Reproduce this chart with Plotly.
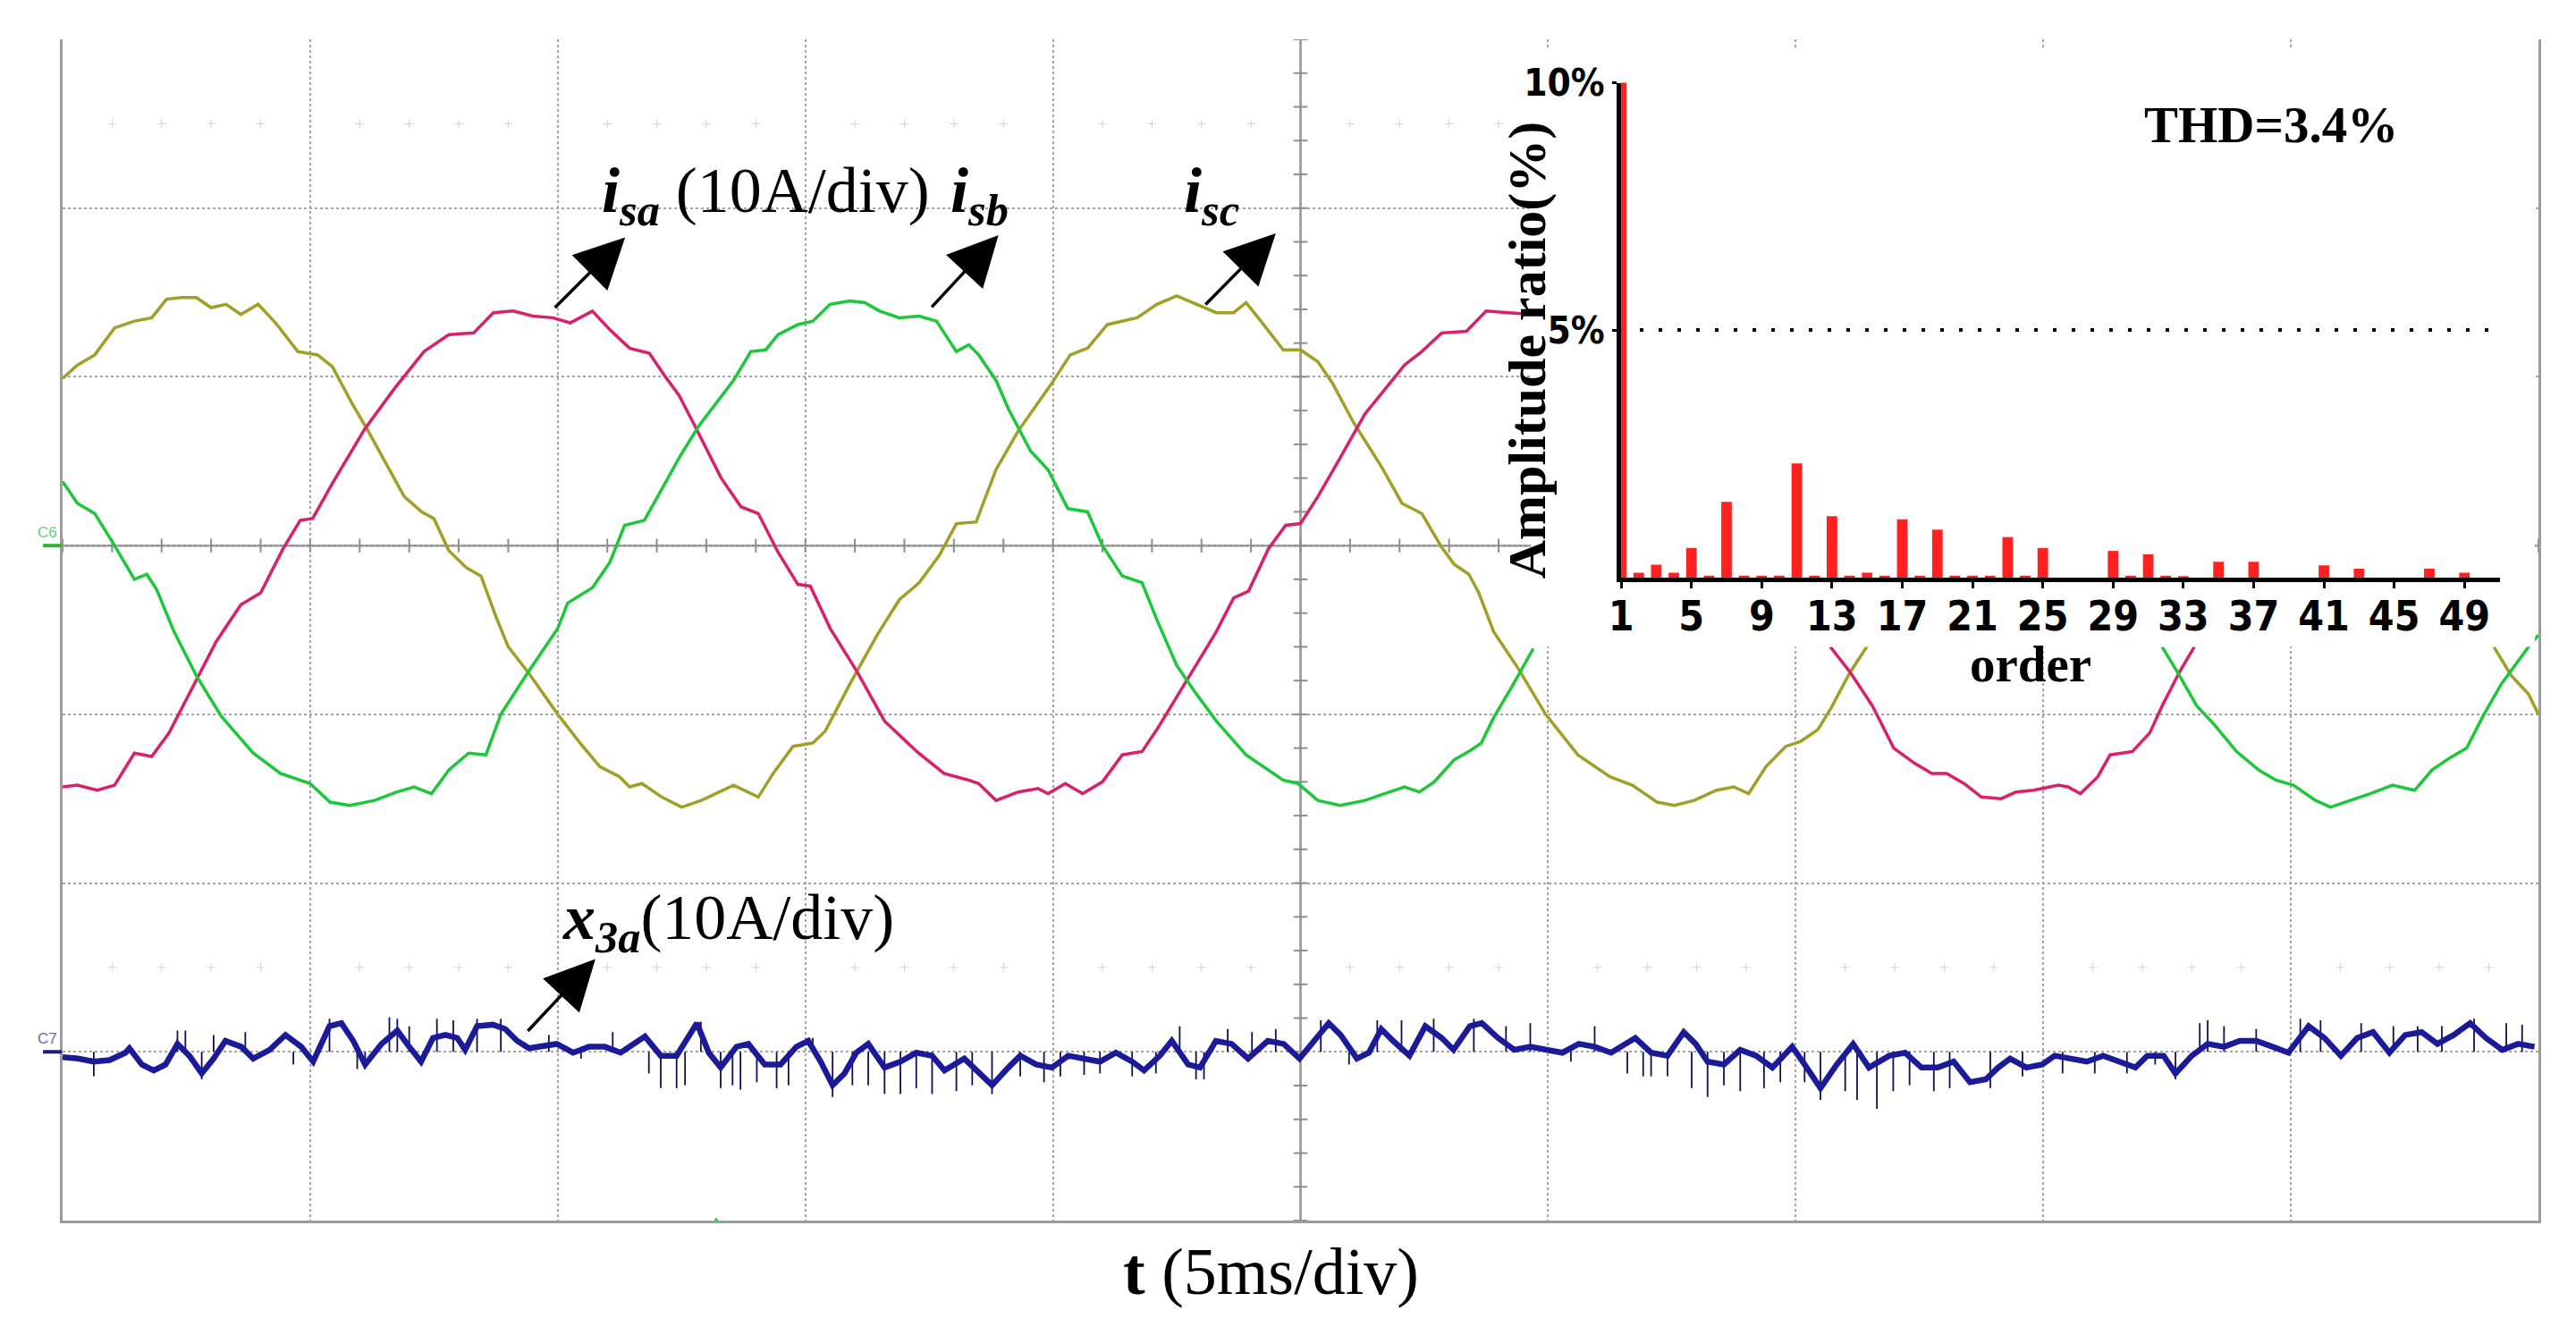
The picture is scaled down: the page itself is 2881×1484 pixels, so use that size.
import plotly.graph_objects as go

# scope capture: time in ms (5 ms/div), currents in A (10 A/div)
# None = part of the trace hidden behind the THD inset
t_sa = [0, 0.3, 0.7, 1.05, 1.45, 1.8, 2.15, 2.7, 3.1, 3.6, 4.0, 4.45, 4.8, 5.05, 5.45, 6.1, 6.7, 7.3, 7.8, 8.3,
        8.7, 9.1, 9.5, 9.9, 10.25, 10.7, 11.05, 11.45, 11.85, 12.15, 12.45, 12.75, 13.3, 13.7, 14.05, 14.45, 14.85,
        15.1, 15.5, 16.05, 16.6, 17.25, 17.8, 18.3, 18.5, 18.85, 19.3, 19.7, 19.9, 20.25, 20.6, 21.0, 21.4, 21.8,
        22.1, 22.7, 23.3, 23.65, 23.95, 24.35, 24.7, 25.0, 25.35, 25.8, 26.3, 26.8, 27.1, 27.45, 27.85, 28.35,
        28.75, 29.2, 29.65, None,
        35.7, 36.1, 36.55, 36.98, 37.4, 37.75, 38.05, 38.4, 38.75, 39.15, 39.45, 39.8, 40.3, 40.5, 40.75, 41.1,
        41.35, 41.8, 42.15, 42.4, 42.75, 43.05]
i_sa = [-14.3, -14.2, -14.5, -14.2, -12.3, -12.5, -11.1, -8.0, -5.7, -3.5, -2.8, -0.2, 1.5, 1.6, 3.7, 6.9, 9.3,
        11.5, 12.5, 12.6, 13.8, 13.9, 13.6, 13.5, 13.2, 13.9, 12.8, 11.7, 11.4, 10.1, 8.9, 7.2, 4.0, 2.3, 1.9,
        -0.4, -2.3, -2.4, -4.9, -7.5, -10.4, -12.2, -13.5, -13.9, -14.1, -15.1, -14.6, -14.4, -14.7, -14.1,
        -14.7, -14.0, -12.4, -12.2, -10.9, -8.0, -5.1, -3.1, -2.7, -0.2, 1.2, 1.3, 2.9, 5.2, 7.8, 9.6, 10.7,
        11.5, 12.6, 12.7, 13.9, 13.8, 13.7, None,
        -6.0, -7.5, -9.5, -12.0, -12.9, -13.5, -13.5, -14.1, -14.9, -15.0, -14.6, -14.5, -14.2, -14.3, -14.7,
        -13.7, -12.4, -12.2, -11.1, -9.5, -7.5, -6.0]

t_sb = [0, 0.3, 0.65, 1.05, 1.45, 1.7, 1.9, 2.25, 2.7, 3.2, 3.85, 4.4, 5.0, 5.4, 5.8, 6.3, 6.75, 7.1, 7.45, 7.8,
        8.2, 8.55, 8.85, 9.4, 10.0, 10.2, 10.7, 11.05, 11.35, 11.75, 12.15, 12.45, 12.85, 13.55, 13.9, 14.2,
        14.45, 14.85, 15.15, 15.5, 15.9, 16.2, 16.5, 16.9, 17.3, 17.65, 18.05, 18.3, 18.5, 18.85, 19.1, 19.55,
        19.9, 20.3, 20.7, 21.0, 21.4, 21.8, 22.1, 22.5, 22.85, 23.3, 23.9, 24.35, 24.65, 24.95, 25.35, 25.8,
        26.3, 26.8, 27.1, 27.4, 27.7, 28.1, 28.4, 28.65, 28.9, 29.3, 29.7, None,
        42.4, 42.75, 43.1, 43.45, 43.9, 44.35, 44.7, 45.05, 45.5, 45.8, 46.2, 46.6, 47.05, 47.5, 47.85, 48.2,
        48.55, 48.9, 49.25, 49.8, 50.0]
i_sb = [3.8, 2.5, 1.9, 0.0, -2.0, -1.7, -2.6, -5.1, -7.7, -10.1, -12.3, -13.5, -14.1, -15.2, -15.4, -15.1, -14.6,
        -14.3, -14.7, -13.3, -12.3, -12.4, -10.0, -7.5, -4.9, -3.4, -2.5, -1.0, 1.2, 1.5, 3.6, 5.2, 7.1, 9.8,
        11.5, 11.6, 12.5, 13.1, 13.3, 14.3, 14.5, 14.4, 13.9, 13.5, 13.6, 13.3, 11.5, 11.9, 11.3, 9.8, 8.1, 5.6,
        4.5, 2.2, 2.0, 0.0, -1.8, -2.2, -4.4, -7.1, -8.6, -10.4, -12.4, -13.3, -13.9, -14.1, -15.1, -15.4,
        -15.1, -14.6, -14.3, -14.6, -14.0, -12.7, -12.2, -11.7, -10.2, -8.2, -6.1, None,
        -6.0, -7.7, -9.5, -10.6, -12.2, -13.3, -13.9, -14.2, -15.1, -15.5, -15.1, -14.7, -14.2, -14.5, -13.3,
        -12.6, -12.0, -10.0, -8.2, -6.0, -5.3]

t_sc = [0, 0.3, 0.65, 1.05, 1.45, 1.8, 2.1, 2.4, 2.7, 3.0, 3.3, 3.6, 3.95, 4.3, 4.75, 5.15, 5.45, 5.85, 6.15,
        6.6, 6.9, 7.25, 7.5, 7.8, 8.15, 8.45, 8.75, 9.0, 9.4, 10.0, 10.45, 10.85, 11.25, 11.45, 11.7, 12.1, 12.5,
        12.9, 13.55, 14.05, 14.35, 14.75, 15.15, 15.4, 15.9, 16.45, 16.9, 17.3, 17.7, 18.05, 18.45, 18.85, 19.3,
        19.95, 20.35, 20.7, 21.1, 21.7, 22.1, 22.5, 22.9, 23.3, 23.65, 23.9, 24.2, 24.65, 25.0, 25.35, 25.65,
        26.05, 26.65, 27.05, 27.45, 27.85, 28.1, 28.4, 28.6, 28.9, 29.4, 29.95, 30.6, 31.25, 31.7, 32.2, 32.55,
        32.95, 33.4, 33.75, 34.05, 34.4, 34.8, 35.1, 35.45, 35.7, 36.1, 36.5, None,
        49.1, 49.45, 49.8, 50.0]
i_sc = [9.9, 10.7, 11.3, 12.9, 13.3, 13.5, 14.6, 14.7, 14.7, 14.1, 14.3, 13.7, 14.3, 13.2, 11.5, 11.3, 10.6, 8.4,
        6.9, 4.5, 2.9, 2.0, 1.6, -0.3, -1.3, -1.8, -4.2, -6.0, -7.5, -10.0, -11.7, -13.1, -13.7, -14.3, -14.1,
        -14.9, -15.5, -15.1, -14.2, -14.9, -13.5, -11.9, -11.7, -11.0, -8.2, -5.3, -3.2, -2.2, -0.6, 1.3, 1.4,
        4.5, 6.8, 9.5, 11.3, 11.7, 13.1, 13.5, 14.3, 14.8, 14.3, 13.8, 13.8, 14.4, 13.3, 11.6, 11.6, 10.9, 9.6,
        7.4, 4.6, 2.5, 1.9, -0.1, -1.1, -1.7, -2.8, -5.1, -7.3, -10.0, -12.4, -13.7, -14.2, -15.2, -15.4, -15.1,
        -14.5, -14.3, -14.7, -13.1, -11.9, -11.6, -10.9, -9.7, -7.5, -5.7, None,
        -6.0, -7.7, -8.8, -10.0]

t_x3a = [0.00, 0.31, 0.63, 0.95, 1.27, 1.35, 1.60, 1.84, 2.08, 2.32, 2.56, 2.81, 3.05, 3.29, 3.61, 3.85, 4.18,
         4.50, 4.82, 5.06, 5.39, 5.63, 5.87, 6.11, 6.44, 6.76, 7.00, 7.24, 7.48, 7.73, 7.97, 8.13, 8.37, 8.69,
         8.94, 9.18, 9.42, 9.66, 9.98, 10.31, 10.63, 10.95, 11.27, 11.76, 12.08, 12.40, 12.65, 12.81, 13.05,
         13.29, 13.61, 13.85, 14.18, 14.50, 14.82, 15.06, 15.31, 15.55, 15.79, 16.03, 16.27, 16.60, 16.92,
         17.24, 17.56, 17.81, 18.21, 18.53, 18.77, 19.10, 19.34, 19.66, 19.98, 20.31, 20.63, 20.95, 21.27,
         21.60, 21.84, 22.16, 22.40, 22.73, 22.97, 23.29, 23.61, 23.94, 24.34, 24.66, 24.98,
         25.24, 25.57, 25.81, 26.14, 26.38, 26.63, 26.87, 27.20, 27.52, 27.85, 28.09, 28.42, 28.66, 28.99,
         29.32, 29.64, 29.97, 30.29, 30.62, 30.94, 31.27, 31.76, 32.08, 32.41, 32.74, 32.98, 33.22, 33.55,
         33.88, 34.20, 34.53, 34.93, 35.18, 35.50, 35.83, 36.16, 36.48, 36.89, 37.21, 37.54, 37.87, 38.19,
         38.52, 38.84, 39.09, 39.33, 39.66, 39.98, 40.23, 40.55, 40.88, 41.21, 41.53, 41.86, 42.10, 42.43,
         42.67, 43.00, 43.32, 43.65, 43.97, 44.30, 44.63, 44.95, 45.36, 45.68, 46.01, 46.34, 46.66, 46.99,
         47.31, 47.64, 47.96, 48.29, 48.62, 48.94, 49.27, 49.59, 49.92]
x3a = [-0.32, -0.40, -0.58, -0.49, -0.05, 0.21, -0.75, -1.10, -0.75, 0.47, -0.23, -1.28, -0.40, 0.65, 0.30, -0.40,
       0.12, 1.00, 0.30, -0.58, 1.52, 1.70, 0.65, -0.75, 0.47, 1.26, 0.30, -0.58, 0.82, 1.00, 0.82, 0.12, 1.52,
       1.61, 1.35, 0.65, 0.21, 0.30, 0.47, -0.05, 0.30, 0.30, -0.05, 0.91, -0.23, -0.23, 1.00, 1.70, -0.05, -0.93,
       0.30, 0.47, -0.75, -0.75, 0.30, 0.65, -0.58, -1.98, -1.28, -0.05, 0.47, -0.93, -0.58, -0.05, -0.23, -1.10,
       -0.40, -1.28, -1.98, -0.93, -0.23, -0.75, -0.93, -0.23, -0.40, -0.58, -0.05, -0.58, -1.10, -0.23, 0.65,
       -0.75, -0.93, 0.65, 0.47, -0.40, 0.65, 0.47, -0.40,
       0.47, 1.70, 1.00, -0.40, -0.05, 1.35, 0.65, -0.23, 1.52, 0.82, 0.12, 1.52, 1.70, 0.82, 0.12, 0.30, 0.12,
       -0.05, 0.47, 0.30, -0.05, 0.82, -0.05, -0.23, 1.17, 0.47, -0.58, -0.75, 0.12, -0.23, -0.93, 0.30, -0.75,
       -2.15, -0.75, 0.47, -0.93, -0.23, -0.05, -0.93, -0.93, -0.58, -1.80, -1.63, -0.93, -0.40, -0.93, -0.75,
       -0.23, -0.40, -0.58, -0.23, -0.58, -0.93, -0.23, -0.23, -1.28, -0.23, 0.47, 0.30, 0.65, 0.65, 0.30, -0.05,
       1.52, 0.82, -0.23, 0.82, 1.17, -0.05, 1.00, 1.17, 0.47, 1.00, 1.70, 0.82, 0.12, 0.47, 0.30]

# switching spikes on x3a (peak value in A)
spike_t = [0.63, 2.32, 2.48, 2.81, 3.05, 3.69, 4.66, 5.39, 5.95, 6.11, 6.60, 6.76, 7.00, 7.56, 7.89, 8.37, 8.85,
           9.82, 10.47, 11.11, 11.84, 12.08, 12.40, 12.57, 12.89, 13.29, 13.53, 13.69, 14.02, 14.42, 14.66, 15.15,
           15.55, 15.95, 16.27, 16.60, 16.92, 17.24, 17.56, 18.05, 18.37, 18.77, 19.34, 19.82, 20.15, 20.63,
           20.95, 21.60, 22.08, 22.56, 22.89, 23.05, 23.53, 24.02, 24.50, 25.41, 25.98, 26.55, 27.04, 27.69,
           28.50, 29.15, 29.64, 30.46, 30.94, 31.60, 31.92, 32.08, 32.41, 32.90, 33.22, 33.55, 33.88, 34.36,
           34.69, 35.18, 35.50, 36.00, 36.24, 36.64, 36.97, 37.30, 37.79, 38.11, 38.93, 39.58, 40.39, 41.04,
           41.69, 42.26, 42.67, 43.16, 43.32, 43.65, 44.30, 45.19, 45.60, 46.42, 47.07, 47.56, 48.05, 48.70,
           49.35, 49.67]
spike_a = [-1.45, 1.26, 1.26, -1.63, 1.00, 1.17, -0.75, 1.96, -1.02, -1.02, 2.05, 1.96, 1.52, 1.96, 1.87, 1.96,
           1.96, 1.00, -0.40, 1.17, -1.28, -2.15, -2.15, -1.98, 1.79, -2.15, -1.98, -2.24, -1.80, -2.15, -1.98,
           0.82, -2.68, -1.98, -1.98, -2.50, -2.50, -2.15, -2.50, -2.33, -1.98, -2.50, -1.45, -1.80, -1.45, -1.37,
           -1.28, -1.45, -1.28, 1.52, -1.63, -1.63, 1.35, 1.17, 1.35, 1.87, -0.75, 1.87, 1.87, 1.96,
           1.96, 1.52, 1.70, -0.58, 1.52, -1.28, -1.45, -1.45, -1.45, -2.15, -2.68, -1.98, -2.33, -2.15,
           -1.80, -1.80, -2.85, -2.33, -2.85, -3.38, -2.33, -1.98, -2.33, -2.15, -2.15, -1.45, -1.28, -1.28,
           -1.28, -0.75, -1.63, 1.70, 1.87, 1.52, 1.35, 1.96, 1.87, 1.70, 1.52, 1.52, 1.52, 1.96,
           1.70, 1.61]

# harmonic spectrum of i_sa, % of fundamental
orders = list(range(1, 51))
ratio = [100, 0.10, 0.26, 0.10, 0.60, 0.04, 1.53, 0.04, 0.04, 0.04, 2.31, 0.04, 1.24, 0.04, 0.10, 0.04, 1.18, 0.04,
         0.97, 0.04, 0.04, 0.04, 0.82, 0.04, 0.60, 0, 0, 0, 0.54, 0.04, 0.47, 0.04, 0.03, 0, 0.32, 0, 0.32, 0, 0, 0,
         0.25, 0, 0.18, 0, 0, 0, 0.18, 0, 0.10, 0]
thd_text = "THD=3.4%"

trig_t, trig_level = 13.2, 9.5

C7_OFFSET = -30  # x3a drawn on the C7 reference, 3 div below C6
SERIF = "Liberation Serif, Times New Roman, serif"
NARROW = "Liberation Sans Narrow, Arial Narrow, DejaVu Sans Condensed, sans-serif"
GRID = "#a4a4a4"
AXC = "#8e8e8e"

fig = go.Figure()

# centre graticule ticks (every 1/5 div)
fig.add_trace(go.Scatter(x=[k for k in range(0, 51)], y=[0] * 51, mode="markers", hoverinfo="skip",
                         marker=dict(symbol="line-ns", size=11, line=dict(width=2, color=AXC)), showlegend=False))
fig.add_trace(go.Scatter(x=[25] * 36, y=[-40 + 2 * k for k in range(36)], mode="markers", hoverinfo="skip",
                         marker=dict(symbol="line-ew", size=11, line=dict(width=2, color=AXC)), showlegend=False))
minor_x = [k for k in range(1, 50) if k % 5]
fig.add_trace(go.Scatter(x=minor_x * 2, y=[25] * len(minor_x) + [-25] * len(minor_x), mode="markers",
                         hoverinfo="skip", showlegend=False,
                         marker=dict(symbol="cross-thin", size=7, line=dict(width=1, color="#d2d2d2"))))

fig.add_trace(go.Scatter(x=t_sc, y=i_sc, mode="lines", line=dict(color="#a09f26", width=3.5), name="isc"))
fig.add_trace(go.Scatter(x=t_sa, y=i_sa, mode="lines", line=dict(color="#d8206c", width=3.5), name="isa"))
fig.add_trace(go.Scatter(x=t_sb, y=i_sb, mode="lines", line=dict(color="#1cc83a", width=3.5), name="isb"))

sx, sy = [], []
for t, a in zip(spike_t, spike_a):
    sx += [t, t, None]
    sy += [C7_OFFSET, C7_OFFSET + a, None]
fig.add_trace(go.Scatter(x=sx, y=sy, mode="lines", line=dict(color="#101050", width=1.8), hoverinfo="skip"))
fig.add_trace(go.Scatter(x=t_x3a, y=[v + C7_OFFSET for v in x3a], mode="lines",
                         line=dict(color="#1b1b9a", width=6.5), name="x3a"))

fig.add_trace(go.Scatter(x=[trig_t], y=[-40], mode="markers", cliponaxis=False, hoverinfo="skip",
                         marker=dict(symbol="triangle-up", size=7, color="#2ecc40")))
fig.add_trace(go.Scatter(x=[50.15], y=[trig_level], mode="markers", cliponaxis=False, hoverinfo="skip",
                         marker=dict(symbol="triangle-left", size=9, color="#2ecc40")))

# white panel behind the inset (its own subplot, so its background hides the traces)
fig.add_trace(go.Scatter(x=[None], y=[None], xaxis="x2", yaxis="y2", hoverinfo="skip"))
fig.add_trace(go.Bar(x=orders, y=ratio, xaxis="x3", yaxis="y3", width=0.6, marker_color="#ff2020",
                     marker_line_width=0))

# page body adds 8 px, so the figure is 16 px smaller than the window
fig.update_layout(
    width=2865, height=1468, showlegend=False,
    paper_bgcolor="white", plot_bgcolor="white",
    margin=dict(l=62, r=34, t=25, b=111),
    xaxis=dict(domain=[0, 1], range=[0, 50], tick0=0, dtick=5, showticklabels=False, ticks="",
               showgrid=True, gridcolor=GRID, griddash="dot", gridwidth=1.5, zeroline=False,
               showline=True, linecolor="#9c9c9c", linewidth=2.5, mirror=False),
    yaxis=dict(domain=[0, 1], range=[-40, 30], tick0=0, dtick=10, showticklabels=False, ticks="",
               showgrid=True, gridcolor=GRID, griddash="dot", gridwidth=1.5, zeroline=False,
               showline=True, linecolor="#9c9c9c", linewidth=2.5, mirror=True),
    xaxis2=dict(domain=[0.593, 0.9986], range=[0, 1], anchor="y2", showgrid=False,
                zeroline=False, showticklabels=False, showline=False, ticks=""),
    yaxis2=dict(domain=[0.4857, 0.9932], range=[0, 1], anchor="x2", showgrid=False,
                zeroline=False, showticklabels=False, showline=False, ticks=""),
    xaxis3=dict(domain=[0.6295, 0.9843], range=[1, 51], anchor="y3", tickvals=list(range(1, 50, 4)),
                ticks="outside", ticklen=7, tickwidth=3, tickcolor="black", showline=True, linecolor="black",
                linewidth=5, showgrid=False, zeroline=False, ticklabelstandoff=-8,
                tickfont=dict(family=NARROW, size=46, color="black", weight="bold")),
    yaxis3=dict(domain=[0.5443, 0.9632], range=[0, 10], anchor="x3", tickvals=[5, 10],
                ticktext=["5%", "10%"], ticks="outside", ticklen=5, tickwidth=3, tickcolor="black",
                showline=True, linecolor="black", linewidth=5, zeroline=False,
                showgrid=True, gridcolor="black", gridwidth=4, griddash="4px,17px",
                tickfont=dict(family=NARROW, size=42, color="black", weight="bold")),
)

# solid centre axes of the graticule and the channel markers
fig.add_shape(type="line", x0=0, x1=50, y0=0, y1=0, line=dict(color=AXC, width=2.5), layer="below")
fig.add_shape(type="line", x0=25, x1=25, y0=-40, y1=30, line=dict(color=AXC, width=2.5), layer="below")
fig.add_shape(type="line", xref="paper", x0=-0.0079, x1=-0.0004, y0=0, y1=0, line=dict(color="#2db52d", width=4))
fig.add_shape(type="line", xref="paper", x0=-0.0079, x1=-0.0004, y0=C7_OFFSET, y1=C7_OFFSET,
              line=dict(color="#1a1a80", width=4))

big = dict(family=SERIF, size=72, color="black")
labels = [
    ("<b><i>i</i></b><sub><b><i>sa</i></b></sub> (10A/div)", 10.85, 20.8),
    ("<b><i>i</i></b><sub><b><i>sb</i></b></sub>", 17.9, 20.8),
    ("<b><i>i</i></b><sub><b><i>sc</i></b></sub>", 22.6, 20.8),
    ("<b><i>x</i></b><sub><b><i>3a</i></b></sub>(10A/div)", 10.05, -22.3),
]
for text, x, y in labels:
    fig.add_annotation(text=text, x=x, y=y, xanchor="left", yanchor="middle", showarrow=False, font=big)

arrows = [(11.36, 18.26, -80, 80), (18.9, 18.4, -76, 82), (24.5, 18.5, -80, 81), (10.76, -24.5, -77, 82)]
for x, y, ax, ay in arrows:
    fig.add_annotation(text="", x=x, y=y, ax=ax, ay=ay, showarrow=True, arrowhead=2, arrowsize=3.2,
                       arrowwidth=3.5, arrowcolor="black", standoff=0)

inset_font = dict(family=SERIF, color="black")
fig.add_annotation(text="<b>t</b> (5ms/div)", xref="paper", yref="paper", x=0.488, y=-0.0435,
                   xanchor="center", yanchor="middle", showarrow=False,
                   font=dict(family=SERIF, size=74, color="black"))
fig.add_annotation(text="<b>Amplitude ratio(%)</b>", xref="paper", yref="paper", x=0.5916, y=0.7372,
                   xanchor="center", yanchor="middle", textangle=-90, showarrow=False,
                   font=dict(size=60, **inset_font))
fig.add_annotation(text="<b>" + thd_text + "</b>", xref="paper", yref="paper", x=0.892, y=0.928,
                   xanchor="center", yanchor="middle", showarrow=False, font=dict(size=57, **inset_font))
fig.add_annotation(text="<b>order</b>", xref="paper", yref="paper", x=0.795, y=0.471,
                   xanchor="center", yanchor="middle", showarrow=False, font=dict(size=57, **inset_font))
fig.add_annotation(text="C6", xref="paper", x=-0.0014, y=0.76, xanchor="right", yanchor="middle",
                   showarrow=False, font=dict(family="Liberation Sans, sans-serif", size=17, color="#6fcf6f"))
fig.add_annotation(text="C7", xref="paper", x=-0.0014, y=C7_OFFSET + 0.8, xanchor="right", yanchor="middle",
                   showarrow=False, font=dict(family="Liberation Sans, sans-serif", size=17, color="#6a6aa8"))

fig.write_html("out.html")
